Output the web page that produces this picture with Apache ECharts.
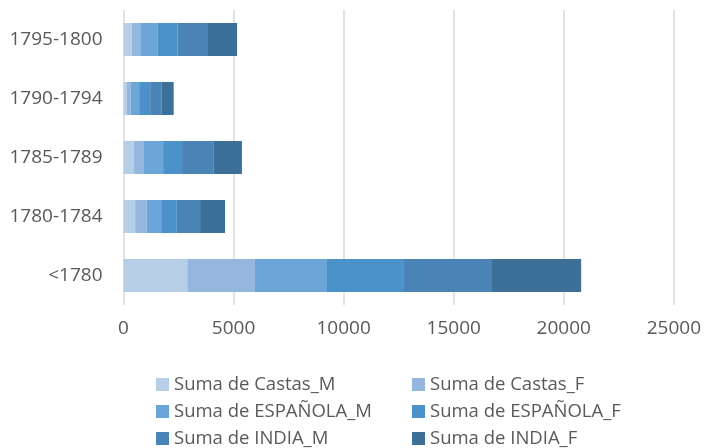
<!DOCTYPE html>
<html>
<head>
<meta charset="utf-8">
<script src="https://cdn.jsdelivr.net/npm/echarts@6/dist/echarts.min.js"></script>
<style>
  html, body { margin: 0; padding: 0; background: #fff; }
  #chart { width: 704px; height: 448px; }
</style>
</head>
<body>
<div id="chart"></div>
<script>
// Periods, bottom to top on the category axis
const periods = ['<1780', '1780-1784', '1785-1789', '1790-1794', '1795-1800'];

// Stacked series values per period
const castasM    = [2900, 530, 480, 140, 380];
const castasF    = [3070, 530, 420, 180, 380];
const espanolaM  = [3240, 650, 900, 390, 800];
const espanolaF  = [3530, 710, 860, 500, 900];
const indiaM     = [4000, 1060, 1420, 510, 1340];
const indiaF     = [4050, 1130, 1300, 560, 1360];

const seriesNames = [
  'Suma de Castas_M', 'Suma de Castas_F',
  'Suma de ESPAÑOLA_M', 'Suma de ESPAÑOLA_F',
  'Suma de INDIA_M', 'Suma de INDIA_F'
];
const seriesData = [castasM, castasF, espanolaM, espanolaF, indiaM, indiaF];
const colors = ['#b6cfe7', '#95b7df', '#6ca6d9', '#4a92c9', '#4a83b5', '#3c7099'];

const valueTicks = [0, 5000, 10000, 15000, 20000, 25000];

const font = '"Open Sans", "Liberation Sans", sans-serif';
const textColor = '#595959';

// Legend laid out as two columns of three entries
const legendCols = [156, 412];
const legendRows = [375, 402, 429];
const legends = seriesNames.map((name, i) => ({
  data: [name],
  left: legendCols[i % 2],
  top: legendRows[Math.floor(i / 2)],
  itemWidth: 13, itemHeight: 13, icon: 'rect', itemGap: 0,
  padding: 0,
  textStyle: { color: textColor, fontSize: 18.5, fontFamily: font }
}));

const chart = echarts.init(document.getElementById('chart'), null, { renderer: 'canvas' });

chart.setOption({
  animation: false,
  color: colors,
  grid: { left: 123.5, right: 28, top: 10, bottom: 143, containLabel: false },
  xAxis: {
    type: 'value',
    min: valueTicks[0],
    max: valueTicks[valueTicks.length - 1],
    interval: valueTicks[1] - valueTicks[0],
    axisLine: { show: false },
    axisTick: { show: false },
    splitLine: { show: true, lineStyle: { color: '#d9d9d9', width: 1.5 } },
    axisLabel: {
      color: textColor, fontSize: 19, fontFamily: font, margin: 14,
      formatter: v => String(v)
    }
  },
  yAxis: {
    type: 'category',
    data: periods,
    axisLine: { show: false },
    axisTick: { show: false },
    axisLabel: { color: textColor, fontSize: 19, fontFamily: font, margin: 21 }
  },
  legend: legends,
  series: seriesNames.map((name, i) => ({
    name: name,
    type: 'bar',
    stack: 'total',
    barWidth: '56%',
    data: seriesData[i],
    itemStyle: { color: colors[i] }
  }))
});
</script>
</body>
</html>
